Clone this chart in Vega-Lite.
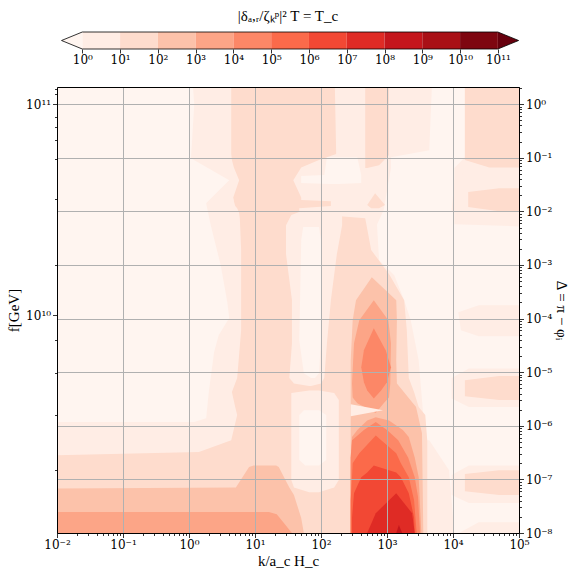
{
  "$schema": "https://vega.github.io/schema/vega-lite/v6.json",
  "padding": {"left": 6, "top": 9, "right": 1, "bottom": 2},
  "background": "white",
  "config": {
    "font": "Liberation Serif",
    "view": {"stroke": null},
    "axis": {"labelFont": "DejaVu Serif", "titleFont": "Liberation Serif", "labelFontSize": 12, "titleFontSize": 15, "titleFontWeight": "normal", "labelColor": "black", "titleColor": "black", "tickColor": "black", "domainColor": "black", "tickWidth": 0.8, "domainWidth": 1}
  },
  "datasets": {
    "cbar": [
      {"lo": 0, "hi": 1, "lv": 0}, {"lo": 1, "hi": 2, "lv": 1}, {"lo": 2, "hi": 3, "lv": 2}, {"lo": 3, "hi": 4, "lv": 3},
      {"lo": 4, "hi": 5, "lv": 4}, {"lo": 5, "hi": 6, "lv": 5}, {"lo": 6, "hi": 7, "lv": 6}, {"lo": 7, "hi": 8, "lv": 7},
      {"lo": 8, "hi": 9, "lv": 8}, {"lo": 9, "hi": 10, "lv": 9}, {"lo": 10, "hi": 11, "lv": 10}
    ],
    "cbtri": [
      {"t": "L", "x": -0.55, "ya": 0.5, "yb": 0.5, "lv": -1}, {"t": "L", "x": 0, "ya": 0, "yb": 1, "lv": -1},
      {"t": "R", "x": 11, "ya": 0, "yb": 1, "lv": 11}, {"t": "R", "x": 11.55, "ya": 0.5, "yb": 0.5, "lv": 11}
    ],
    "cbline": [
      {"i": 0, "x": -0.55, "y": 0.5}, {"i": 1, "x": 0, "y": 1}, {"i": 2, "x": 11, "y": 1}, {"i": 3, "x": 11.55, "y": 0.5},
      {"i": 4, "x": 11, "y": 0}, {"i": 5, "x": 0, "y": 0}, {"i": 6, "x": -0.55, "y": 0.5}
    ],
    "poly": [
      {"id": "U1", "z": 1, "lv": -1, "y": 0.32, "x": -2, "x2": 0.06},
      {"id": "U1", "z": 1, "lv": -1, "y": 0, "x": -2, "x2": 0.08},
      {"id": "U1", "z": 1, "lv": -1, "y": -1.01, "x": -2, "x2": 0.03},
      {"id": "U1", "z": 1, "lv": -1, "y": -1.42, "x": -2, "x2": 0.61},
      {"id": "U1", "z": 1, "lv": -1, "y": -1.85, "x": -2, "x2": 0.26},
      {"id": "U1", "z": 1, "lv": -1, "y": -2.26, "x": -2, "x2": 0.33},
      {"id": "U1", "z": 1, "lv": -1, "y": -3.0, "x": -2, "x2": 0.48},
      {"id": "U1", "z": 1, "lv": -1, "y": -3.69, "x": -2, "x2": 0.58},
      {"id": "U1", "z": 1, "lv": -1, "y": -3.99, "x": -2, "x2": 0.61},
      {"id": "U1", "z": 1, "lv": -1, "y": -4.31, "x": -2, "x2": 0.45},
      {"id": "U1", "z": 1, "lv": -1, "y": -4.63, "x": -2, "x2": 0.38},
      {"id": "U1", "z": 1, "lv": -1, "y": -5.37, "x": -2, "x2": 0.30},
      {"id": "U1", "z": 1, "lv": -1, "y": -5.86, "x": -2, "x2": 0.26},
      {"id": "U1", "z": 1, "lv": -1, "y": -5.93, "x": -2, "x2": 0.08},

      {"id": "U5", "z": 1, "lv": -1, "y": -0.99, "x": 2.09, "x2": 2.55},
      {"id": "U5", "z": 1, "lv": -1, "y": -1.32, "x": 2.05, "x2": 2.61},
      {"id": "U5", "z": 1, "lv": -1, "y": -1.34, "x": 1.70, "x2": 2.61},
      {"id": "U5", "z": 1, "lv": -1, "y": -1.47, "x": 1.70, "x2": 2.61},
      {"id": "U5", "z": 1, "lv": -1, "y": -1.49, "x": 2.12, "x2": 2.27},

      {"id": "UR", "z": 1, "lv": -1, "y": 0.32, "x": 3.68, "x2": 4.18},
      {"id": "UR", "z": 1, "lv": -1, "y": -0.86, "x": 3.64, "x2": 4.18},
      {"id": "UR", "z": 1, "lv": -1, "y": -0.99, "x": 3.06, "x2": 4.18},
      {"id": "UR", "z": 1, "lv": -1, "y": -1.19, "x": 3.06, "x2": 4.02},
      {"id": "UR", "z": 1, "lv": -1, "y": -1.98, "x": 2.95, "x2": 4.02},
      {"id": "UR", "z": 1, "lv": -1, "y": -2.24, "x": 2.85, "x2": 4.02},
      {"id": "UR", "z": 1, "lv": -1, "y": -2.28, "x": 2.85, "x2": 5},
      {"id": "UR", "z": 1, "lv": -1, "y": -2.91, "x": 2.88, "x2": 5},
      {"id": "UR", "z": 1, "lv": -1, "y": -3.19, "x": 3.11, "x2": 5},
      {"id": "UR", "z": 1, "lv": -1, "y": -3.66, "x": 3.26, "x2": 5},
      {"id": "UR", "z": 1, "lv": -1, "y": -4.03, "x": 3.36, "x2": 5},
      {"id": "UR", "z": 1, "lv": -1, "y": -4.78, "x": 3.48, "x2": 5},
      {"id": "UR", "z": 1, "lv": -1, "y": -5.52, "x": 3.53, "x2": 5},
      {"id": "UR", "z": 1, "lv": -1, "y": -6.27, "x": 3.58, "x2": 5},
      {"id": "UR", "z": 1, "lv": -1, "y": -8, "x": 3.58, "x2": 5},

      {"id": "H1", "z": 2, "lv": 0, "y": -1.21, "x": 4.24, "x2": 5},
      {"id": "H1", "z": 2, "lv": 0, "y": -1.42, "x": 4.02, "x2": 5},
      {"id": "H1", "z": 2, "lv": 0, "y": -1.98, "x": 3.98, "x2": 5},
      {"id": "H1", "z": 2, "lv": 0, "y": -2.24, "x": 4.24, "x2": 5},
      {"id": "H2", "z": 2, "lv": 0, "y": -4.93, "x": 4.24, "x2": 5},
      {"id": "H2", "z": 2, "lv": 0, "y": -5.11, "x": 3.98, "x2": 5},
      {"id": "H2", "z": 2, "lv": 0, "y": -5.49, "x": 3.98, "x2": 5},
      {"id": "H2", "z": 2, "lv": 0, "y": -5.65, "x": 4.24, "x2": 5},
      {"id": "H3", "z": 2, "lv": 0, "y": -6.74, "x": 4.24, "x2": 5},
      {"id": "H3", "z": 2, "lv": 0, "y": -6.92, "x": 3.98, "x2": 5},
      {"id": "H3", "z": 2, "lv": 0, "y": -7.29, "x": 3.98, "x2": 5},
      {"id": "H3", "z": 2, "lv": 0, "y": -7.44, "x": 4.24, "x2": 5},
      {"id": "H4", "z": 2, "lv": 0, "y": -3.75, "x": 4.39, "x2": 5},
      {"id": "H4", "z": 2, "lv": 0, "y": -3.88, "x": 4.08, "x2": 5},
      {"id": "H4", "z": 2, "lv": 0, "y": -4.22, "x": 4.12, "x2": 5},
      {"id": "H4", "z": 2, "lv": 0, "y": -4.33, "x": 4.39, "x2": 5},
      {"id": "H5", "z": 2, "lv": 0, "y": -6.27, "x": 3.58, "x2": 3.64},
      {"id": "H5", "z": 2, "lv": 0, "y": -6.83, "x": 3.58, "x2": 3.94},
      {"id": "H5", "z": 2, "lv": 0, "y": -8, "x": 3.58, "x2": 4.02},
      {"id": "H6", "z": 2, "lv": 0, "y": -7.8, "x": 4.39, "x2": 5},
      {"id": "H6", "z": 2, "lv": 0, "y": -8, "x": 4.09, "x2": 5},

      {"id": "L1big", "z": 3, "lv": 1, "y": 0.32, "x": 0.64, "x2": 2.21},
      {"id": "L1big", "z": 3, "lv": 1, "y": -0.93, "x": 0.64, "x2": 2.23},
      {"id": "L1big", "z": 3, "lv": 1, "y": -1.04, "x": 0.65, "x2": 1.97},
      {"id": "L1big", "z": 3, "lv": 1, "y": -1.18, "x": 0.68, "x2": 1.70},
      {"id": "L1big", "z": 3, "lv": 1, "y": -1.42, "x": 0.76, "x2": 1.58},
      {"id": "L1big", "z": 3, "lv": 1, "y": -1.74, "x": 0.67, "x2": 1.70},
      {"id": "L1big", "z": 3, "lv": 1, "y": -1.79, "x": 0.68, "x2": 1.70},
      {"id": "L1big", "z": 3, "lv": 1, "y": -1.81, "x": 0.68, "x2": 2.15},
      {"id": "L1big", "z": 3, "lv": 1, "y": -1.90, "x": 0.70, "x2": 2.15},
      {"id": "L1big", "z": 3, "lv": 1, "y": -1.94, "x": 0.73, "x2": 1.67},
      {"id": "L1big", "z": 3, "lv": 1, "y": -2.03, "x": 0.76, "x2": 1.67},
      {"id": "L1big", "z": 3, "lv": 1, "y": -2.13, "x": 0.77, "x2": 2.67},
      {"id": "L1big", "z": 3, "lv": 1, "y": -2.72, "x": 0.79, "x2": 2.76},
      {"id": "L1big", "z": 3, "lv": 1, "y": -3.17, "x": 0.79, "x2": 3.03},
      {"id": "L1big", "z": 3, "lv": 1, "y": -3.66, "x": 0.79, "x2": 3.26},
      {"id": "L1big", "z": 3, "lv": 1, "y": -4.22, "x": 0.79, "x2": 3.30},
      {"id": "L1big", "z": 3, "lv": 1, "y": -5.11, "x": 0.73, "x2": 3.33},
      {"id": "L1big", "z": 3, "lv": 1, "y": -5.37, "x": 0.65, "x2": 3.41},
      {"id": "L1big", "z": 3, "lv": 1, "y": -5.65, "x": 0.70, "x2": 3.48},
      {"id": "L1big", "z": 3, "lv": 1, "y": -5.80, "x": 0.73, "x2": 3.58},
      {"id": "L1big", "z": 3, "lv": 1, "y": -6.27, "x": 0.64, "x2": 3.61},
      {"id": "L1big", "z": 3, "lv": 1, "y": -6.49, "x": 0.15, "x2": 3.61},
      {"id": "L1big", "z": 3, "lv": 1, "y": -6.55, "x": -2, "x2": 3.61},
      {"id": "L1big", "z": 3, "lv": 1, "y": -8, "x": -2, "x2": 3.61},
      {"id": "L1strip", "z": 3, "lv": 1, "y": 0.32, "x": 2.67, "x2": 3.03},
      {"id": "L1strip", "z": 3, "lv": 1, "y": -0.95, "x": 2.67, "x2": 3.03},
      {"id": "L1strip", "z": 3, "lv": 1, "y": -1.14, "x": 2.67, "x2": 2.88},
      {"id": "L1strip", "z": 3, "lv": 1, "y": -1.19, "x": 2.67, "x2": 2.70},
      {"id": "L1tri", "z": 3, "lv": 1, "y": -1.66, "x": 2.82, "x2": 2.82},
      {"id": "L1tri", "z": 3, "lv": 1, "y": -1.88, "x": 2.70, "x2": 2.97},
      {"id": "L1tri", "z": 3, "lv": 1, "y": -1.94, "x": 2.76, "x2": 2.88},
      {"id": "L1TR", "z": 3, "lv": 1, "y": 0.32, "x": 4.18, "x2": 5},
      {"id": "L1TR", "z": 3, "lv": 1, "y": -1.04, "x": 4.18, "x2": 5},
      {"id": "L1TR", "z": 3, "lv": 1, "y": -1.18, "x": 4.55, "x2": 5},
      {"id": "B1", "z": 3, "lv": 1, "y": -1.57, "x": 4.70, "x2": 5},
      {"id": "B1", "z": 3, "lv": 1, "y": -1.64, "x": 4.23, "x2": 5},
      {"id": "B1", "z": 3, "lv": 1, "y": -1.92, "x": 4.23, "x2": 5},
      {"id": "B1", "z": 3, "lv": 1, "y": -2.0, "x": 4.70, "x2": 5},
      {"id": "B2", "z": 3, "lv": 1, "y": -5.07, "x": 4.70, "x2": 5},
      {"id": "B2", "z": 3, "lv": 1, "y": -5.15, "x": 4.18, "x2": 5},
      {"id": "B2", "z": 3, "lv": 1, "y": -5.45, "x": 4.18, "x2": 5},
      {"id": "B2", "z": 3, "lv": 1, "y": -5.52, "x": 4.70, "x2": 5},
      {"id": "B3", "z": 3, "lv": 1, "y": -6.83, "x": 4.70, "x2": 5},
      {"id": "B3", "z": 3, "lv": 1, "y": -6.90, "x": 4.18, "x2": 5},
      {"id": "B3", "z": 3, "lv": 1, "y": -7.22, "x": 4.18, "x2": 5},
      {"id": "B3", "z": 3, "lv": 1, "y": -7.29, "x": 4.70, "x2": 5},

      {"id": "L0up", "z": 4, "lv": 0, "y": -2.01, "x": 1.67, "x2": 1.67},
      {"id": "L0up", "z": 4, "lv": 0, "y": -2.07, "x": 1.55, "x2": 2.32},
      {"id": "L0up", "z": 4, "lv": 0, "y": -2.26, "x": 1.47, "x2": 2.32},
      {"id": "L0up", "z": 4, "lv": 0, "y": -2.80, "x": 1.47, "x2": 2.24},
      {"id": "L0up", "z": 4, "lv": 0, "y": -3.66, "x": 1.56, "x2": 2.15},
      {"id": "L0up", "z": 4, "lv": 0, "y": -4.46, "x": 1.56, "x2": 2.09},
      {"id": "L0up", "z": 4, "lv": 0, "y": -5.11, "x": 1.52, "x2": 2.05},
      {"id": "L0up", "z": 4, "lv": 0, "y": -5.21, "x": 1.59, "x2": 2.0},
      {"id": "L0up", "z": 4, "lv": 0, "y": -5.26, "x": 1.82, "x2": 1.85},
      {"id": "L0lo", "z": 4, "lv": 0, "y": -5.34, "x": 1.82, "x2": 1.97},
      {"id": "L0lo", "z": 4, "lv": 0, "y": -5.39, "x": 1.55, "x2": 2.20},
      {"id": "L0lo", "z": 4, "lv": 0, "y": -5.52, "x": 1.55, "x2": 2.27},
      {"id": "L0lo", "z": 4, "lv": 0, "y": -7.01, "x": 1.55, "x2": 2.27},
      {"id": "L0lo", "z": 4, "lv": 0, "y": -7.15, "x": 1.59, "x2": 2.20},
      {"id": "L0lo", "z": 4, "lv": 0, "y": -7.24, "x": 1.82, "x2": 1.97},

      {"id": "U3", "z": 5, "lv": -1, "y": -2.29, "x": 1.73, "x2": 1.97},
      {"id": "U3", "z": 5, "lv": -1, "y": -2.54, "x": 1.70, "x2": 2.0},
      {"id": "U3", "z": 5, "lv": -1, "y": -3.84, "x": 1.68, "x2": 2.0},
      {"id": "U3", "z": 5, "lv": -1, "y": -4.40, "x": 1.67, "x2": 2.0},
      {"id": "U3", "z": 5, "lv": -1, "y": -5.02, "x": 1.74, "x2": 1.97},
      {"id": "U3", "z": 5, "lv": -1, "y": -5.11, "x": 1.85, "x2": 1.91},
      {"id": "U4", "z": 5, "lv": -1, "y": -5.71, "x": 1.74, "x2": 1.97},
      {"id": "U4", "z": 5, "lv": -1, "y": -5.80, "x": 1.67, "x2": 2.08},
      {"id": "U4", "z": 5, "lv": -1, "y": -6.64, "x": 1.67, "x2": 2.08},
      {"id": "U4", "z": 5, "lv": -1, "y": -6.74, "x": 1.76, "x2": 1.97},

      {"id": "L2bot", "z": 6, "lv": 2, "y": -6.74, "x": 0.98, "x2": 1.32},
      {"id": "L2bot", "z": 6, "lv": 2, "y": -6.77, "x": 0.91, "x2": 1.36},
      {"id": "L2bot", "z": 6, "lv": 2, "y": -7.15, "x": 0.71, "x2": 1.52},
      {"id": "L2bot", "z": 6, "lv": 2, "y": -7.17, "x": -2, "x2": 1.53},
      {"id": "L2bot", "z": 6, "lv": 2, "y": -7.29, "x": -2, "x2": 1.59},
      {"id": "L2bot", "z": 6, "lv": 2, "y": -7.72, "x": -2, "x2": 1.70},
      {"id": "L2bot", "z": 6, "lv": 2, "y": -8, "x": -2, "x2": 1.74},
      {"id": "L2col", "z": 6, "lv": 2, "y": -3.23, "x": 2.77, "x2": 2.77},
      {"id": "L2col", "z": 6, "lv": 2, "y": -3.66, "x": 2.53, "x2": 3.14},
      {"id": "L2col", "z": 6, "lv": 2, "y": -4.03, "x": 2.48, "x2": 3.15},
      {"id": "L2col", "z": 6, "lv": 2, "y": -4.78, "x": 2.45, "x2": 3.14},
      {"id": "L2col", "z": 6, "lv": 2, "y": -5.21, "x": 2.45, "x2": 3.15},
      {"id": "L2col", "z": 6, "lv": 2, "y": -5.65, "x": 2.45, "x2": 3.44},
      {"id": "L2col", "z": 6, "lv": 2, "y": -6.14, "x": 2.45, "x2": 3.53},
      {"id": "L2col", "z": 6, "lv": 2, "y": -8, "x": 2.45, "x2": 3.55},

      {"id": "L3bot", "z": 7, "lv": 3, "y": -7.61, "x": -2, "x2": 1.21},
      {"id": "L3bot", "z": 7, "lv": 3, "y": -7.65, "x": -2, "x2": 1.33},
      {"id": "L3bot", "z": 7, "lv": 3, "y": -8, "x": -2, "x2": 1.56},
      {"id": "L3up", "z": 7, "lv": 3, "y": -3.66, "x": 2.80, "x2": 2.80},
      {"id": "L3up", "z": 7, "lv": 3, "y": -4.03, "x": 2.58, "x2": 3.02},
      {"id": "L3up", "z": 7, "lv": 3, "y": -4.46, "x": 2.50, "x2": 3.06},
      {"id": "L3up", "z": 7, "lv": 3, "y": -5.21, "x": 2.47, "x2": 3.05},
      {"id": "L3up", "z": 7, "lv": 3, "y": -5.47, "x": 2.48, "x2": 3.03},
      {"id": "L3up", "z": 7, "lv": 3, "y": -5.58, "x": 2.55, "x2": 2.95},
      {"id": "L3up", "z": 7, "lv": 3, "y": -5.76, "x": 2.83, "x2": 2.83},
      {"id": "L3lo", "z": 7, "lv": 3, "y": -5.84, "x": 2.83, "x2": 2.83},
      {"id": "L3lo", "z": 7, "lv": 3, "y": -5.90, "x": 2.70, "x2": 3.03},
      {"id": "L3lo", "z": 7, "lv": 3, "y": -6.08, "x": 2.55, "x2": 3.24},
      {"id": "L3lo", "z": 7, "lv": 3, "y": -6.21, "x": 2.47, "x2": 3.33},
      {"id": "L3lo", "z": 7, "lv": 3, "y": -6.59, "x": 2.45, "x2": 3.42},
      {"id": "L3lo", "z": 7, "lv": 3, "y": -6.96, "x": 2.45, "x2": 3.48},
      {"id": "L3lo", "z": 7, "lv": 3, "y": -8, "x": 2.45, "x2": 3.52},

      {"id": "L4up", "z": 8, "lv": 4, "y": -4.18, "x": 2.80, "x2": 2.80},
      {"id": "L4up", "z": 8, "lv": 4, "y": -4.59, "x": 2.65, "x2": 2.98},
      {"id": "L4up", "z": 8, "lv": 4, "y": -4.91, "x": 2.61, "x2": 3.06},
      {"id": "L4up", "z": 8, "lv": 4, "y": -5.19, "x": 2.65, "x2": 3.0},
      {"id": "L4up", "z": 8, "lv": 4, "y": -5.34, "x": 2.70, "x2": 2.91},
      {"id": "L4up", "z": 8, "lv": 4, "y": -5.49, "x": 2.80, "x2": 2.80},
      {"id": "L4lo", "z": 8, "lv": 4, "y": -5.93, "x": 2.83, "x2": 2.83},
      {"id": "L4lo", "z": 8, "lv": 4, "y": -6.08, "x": 2.65, "x2": 3.0},
      {"id": "L4lo", "z": 8, "lv": 4, "y": -6.27, "x": 2.47, "x2": 3.17},
      {"id": "L4lo", "z": 8, "lv": 4, "y": -6.59, "x": 2.45, "x2": 3.32},
      {"id": "L4lo", "z": 8, "lv": 4, "y": -6.96, "x": 2.45, "x2": 3.42},
      {"id": "L4lo", "z": 8, "lv": 4, "y": -7.33, "x": 2.45, "x2": 3.47},
      {"id": "L4lo", "z": 8, "lv": 4, "y": -8, "x": 2.45, "x2": 3.5},

      {"id": "L5", "z": 9, "lv": 5, "y": -6.18, "x": 2.83, "x2": 2.83},
      {"id": "L5", "z": 9, "lv": 5, "y": -6.51, "x": 2.58, "x2": 3.14},
      {"id": "L5", "z": 9, "lv": 5, "y": -6.70, "x": 2.48, "x2": 3.21},
      {"id": "L5", "z": 9, "lv": 5, "y": -6.96, "x": 2.47, "x2": 3.33},
      {"id": "L5", "z": 9, "lv": 5, "y": -7.39, "x": 2.45, "x2": 3.41},
      {"id": "L5", "z": 9, "lv": 5, "y": -8, "x": 2.45, "x2": 3.45},

      {"id": "L6", "z": 10, "lv": 6, "y": -6.74, "x": 2.80, "x2": 2.80},
      {"id": "L6", "z": 10, "lv": 6, "y": -6.87, "x": 2.70, "x2": 3.14},
      {"id": "L6", "z": 10, "lv": 6, "y": -6.96, "x": 2.61, "x2": 3.21},
      {"id": "L6", "z": 10, "lv": 6, "y": -7.26, "x": 2.50, "x2": 3.33},
      {"id": "L6", "z": 10, "lv": 6, "y": -7.71, "x": 2.47, "x2": 3.41},
      {"id": "L6", "z": 10, "lv": 6, "y": -8, "x": 2.47, "x2": 3.42},

      {"id": "L7", "z": 11, "lv": 7, "y": -7.26, "x": 3.14, "x2": 3.14},
      {"id": "L7", "z": 11, "lv": 7, "y": -7.63, "x": 2.83, "x2": 3.38},
      {"id": "L7", "z": 11, "lv": 7, "y": -8, "x": 2.70, "x2": 3.42},

      {"id": "L8", "z": 12, "lv": 8, "y": -7.85, "x": 3.18, "x2": 3.18},
      {"id": "L8", "z": 12, "lv": 8, "y": -8, "x": 3.14, "x2": 3.23},

      {"id": "W", "z": 13, "lv": 0, "y": -5.60, "x": 2.45, "x2": 2.45},
      {"id": "W", "z": 13, "lv": 0, "y": -5.71, "x": 2.45, "x2": 2.94},
      {"id": "W", "z": 13, "lv": 0, "y": -5.82, "x": 2.45, "x2": 2.45}
    ]
  },
  "spacing": 38,
  "bounds": "flush",
  "vconcat": [
    {
      "width": 462,
      "height": 17,
      "title": {"text": "|δₐ,ᵣ/ζₖᵖ|²     T = T_c", "font": "Liberation Serif", "fontSize": 15, "fontWeight": "normal", "offset": 6, "anchor": "middle", "color": "black"},
      "resolve": {"axis": {"x": "independent"}},
      "layer": [
        {
          "data": {"name": "cbar"},
          "mark": {"type": "rect", "opacity": 1},
          "encoding": {
            "x": {"field": "lo", "type": "quantitative", "scale": {"domain": [-0.67, 11.56], "nice": false, "zero": false},
                  "axis": {"orient": "bottom", "values": [0,1,2,3,4,5,6,7,8,9,10,11], "labelExpr": "['10⁰','10¹','10²','10³','10⁴','10⁵','10⁶','10⁷','10⁸','10⁹','10¹⁰','10¹¹'][datum.value]", "tickSize": 4, "domain": false, "grid": false, "title": null, "labelFlush": false, "labelOverlap": false, "labelPadding": 1, "zindex": 1}},
            "x2": {"field": "hi"},
            "y": {"datum": 0, "type": "quantitative", "scale": {"domain": [0, 1], "nice": false, "zero": false}, "axis": null},
            "y2": {"datum": 1},
            "color": {"field": "lv", "type": "ordinal", "scale": {"domain": [-1,0,1,2,3,4,5,6,7,8,9,10,11], "range": ["#fff5f0","#ffede5","#fedccd","#fcc2aa","#fca587","#fc8767","#fb6a4a","#f24834","#df2b25","#c4161c","#a91016","#7e0610","#67000d"]}, "legend": null}
          }
        },
        {
          "data": {"name": "cbtri"},
          "mark": {"type": "area", "opacity": 1},
          "encoding": {
            "x": {"field": "x", "type": "quantitative", "scale": {"domain": [-0.67, 11.56], "nice": false, "zero": false}, "axis": null},
            "y": {"field": "ya", "type": "quantitative", "scale": {"domain": [0, 1], "nice": false, "zero": false}, "axis": null, "stack": null},
            "y2": {"field": "yb"},
            "color": {"field": "lv", "type": "ordinal", "legend": null},
            "detail": {"field": "t"}
          }
        },
        {
          "data": {"name": "cbline"},
          "mark": {"type": "line", "color": "black", "strokeWidth": 0.8},
          "encoding": {
            "x": {"field": "x", "type": "quantitative", "scale": {"domain": [-0.67, 11.56], "nice": false, "zero": false}, "axis": null},
            "y": {"field": "y", "type": "quantitative", "scale": {"domain": [0, 1], "nice": false, "zero": false}, "axis": null},
            "order": {"field": "i"}
          }
        }
      ]
    },
    {
      "width": 462,
      "height": 446,
      "view": {"fill": "#ffede5", "stroke": "black", "strokeWidth": 1},
      "data": {"name": "poly"},
      "encoding": {
        "y": {"field": "y", "type": "quantitative", "scale": {"domain": [-8, 0.32], "nice": false, "zero": false}, "axis": null},
        "x": {"field": "x", "type": "quantitative", "scale": {"domain": [-2, 5], "nice": false, "zero": false}, "axis": null, "stack": null},
        "x2": {"field": "x2"},
        "color": {"field": "lv", "type": "ordinal", "legend": null},
        "detail": {"field": "id"}
      },
      "resolve": {"axis": {"x": "independent", "y": "independent"}},
      "layer": [
        {
          "transform": [{"filter": "datum.z == 1"}],
          "mark": {"type": "area", "orient": "horizontal", "clip": true, "opacity": 1},
          "encoding": {
            "y": {"field": "y", "type": "quantitative", "scale": {"domain": [-8, 0.32], "nice": false, "zero": false},
                  "axis": {"orient": "left", "values": [0.28, 0.19, 0, -0.24, -0.43, -0.67, -1.03, -1.77, -3.0, -3.94, -4.40, -5.02, -5.80, -6.83],
                           "labelExpr": "datum.value == 0 ? '10¹¹' : (datum.value == -3.94 ? '10¹⁰' : '')",
                           "tickSize": {"condition": {"test": "datum.value == 0 || datum.value == -3.94", "value": 4.5}, "value": 2.5},
                           "grid": false, "title": "f[GeV]", "titlePadding": 4, "labelPadding": 2, "labelFlush": false, "labelOverlap": false, "zindex": 1}},
            "x": {"field": "x", "type": "quantitative", "scale": {"domain": [-2, 5], "nice": false, "zero": false}, "stack": null,
                  "axis": {"orient": "bottom", "values": [-2,-1.699,-1.523,-1.398,-1.301,-1.222,-1.155,-1.097,-1.046,-1,-0.699,-0.523,-0.398,-0.301,-0.222,-0.155,-0.097,-0.046,0,0.301,0.477,0.602,0.699,0.778,0.845,0.903,0.954,1,1.301,1.477,1.602,1.699,1.778,1.845,1.903,1.954,2,2.301,2.477,2.602,2.699,2.778,2.845,2.903,2.954,3,3.301,3.477,3.602,3.699,3.778,3.845,3.903,3.954,4,4.301,4.477,4.602,4.699,4.778,4.845,4.903,4.954,5],
                           "labelExpr": "datum.value == round(datum.value) ? ['10⁻²','10⁻¹','10⁰','10¹','10²','10³','10⁴','10⁵'][datum.value + 2] : ''",
                           "tickSize": {"condition": {"test": "datum.value == round(datum.value)", "value": 4.5}, "value": 2.5},
                           "grid": true, "gridColor": "#b0b0b0", "gridWidth": 1,
                           "gridOpacity": {"condition": {"test": "datum.value == round(datum.value)", "value": 1}, "value": 0},
                           "title": "k/a_c H_c", "titlePadding": 3, "labelPadding": 2, "labelFlush": false, "labelOverlap": false, "zindex": 1}}
          }
        },
        {
          "transform": [{"filter": "datum.z == 2"}],
          "mark": {"type": "area", "orient": "horizontal", "clip": true, "opacity": 1},
          "encoding": {
            "y": {"field": "y", "type": "quantitative", "scale": {"domain": [-8, 0.32], "nice": false, "zero": false},
                  "axis": {"orient": "right", "values": [-8,-7.699,-7.523,-7.398,-7.301,-7.222,-7.155,-7.097,-7.046,-7,-6.699,-6.523,-6.398,-6.301,-6.222,-6.155,-6.097,-6.046,-6,-5.699,-5.523,-5.398,-5.301,-5.222,-5.155,-5.097,-5.046,-5,-4.699,-4.523,-4.398,-4.301,-4.222,-4.155,-4.097,-4.046,-4,-3.699,-3.523,-3.398,-3.301,-3.222,-3.155,-3.097,-3.046,-3,-2.699,-2.523,-2.398,-2.301,-2.222,-2.155,-2.097,-2.046,-2,-1.699,-1.523,-1.398,-1.301,-1.222,-1.155,-1.097,-1.046,-1,-0.699,-0.523,-0.398,-0.301,-0.222,-0.155,-0.097,-0.046,0,0.301],
                           "labelExpr": "datum.value == round(datum.value) ? ['10⁻⁸','10⁻⁷','10⁻⁶','10⁻⁵','10⁻⁴','10⁻³','10⁻²','10⁻¹','10⁰'][datum.value + 8] : ''",
                           "tickSize": {"condition": {"test": "datum.value == round(datum.value)", "value": 4.5}, "value": 2.5},
                           "grid": true, "gridColor": "#b0b0b0", "gridWidth": 1,
                           "gridOpacity": {"condition": {"test": "datum.value == round(datum.value)", "value": 1}, "value": 0},
                           "title": "Δ = π − φᵢ", "titleAngle": 90, "titlePadding": 2, "labelPadding": 2, "labelFlush": false, "labelOverlap": false, "zindex": 1}},
            "x": {"field": "x", "type": "quantitative", "scale": {"domain": [-2, 5], "nice": false, "zero": false}, "stack": null,
                  "axis": {"orient": "top", "ticks": false, "labels": false, "grid": false, "domain": true, "title": null, "zindex": 1}}
          }
        },
        {"transform": [{"filter": "datum.z == 3"}], "mark": {"type": "area", "orient": "horizontal", "clip": true, "opacity": 1}},
        {"transform": [{"filter": "datum.z == 4"}], "mark": {"type": "area", "orient": "horizontal", "clip": true, "opacity": 1}},
        {"transform": [{"filter": "datum.z == 5"}], "mark": {"type": "area", "orient": "horizontal", "clip": true, "opacity": 1}},
        {"transform": [{"filter": "datum.z == 6"}], "mark": {"type": "area", "orient": "horizontal", "clip": true, "opacity": 1}},
        {"transform": [{"filter": "datum.z == 7"}], "mark": {"type": "area", "orient": "horizontal", "clip": true, "opacity": 1}},
        {"transform": [{"filter": "datum.z == 8"}], "mark": {"type": "area", "orient": "horizontal", "clip": true, "opacity": 1}},
        {"transform": [{"filter": "datum.z == 9"}], "mark": {"type": "area", "orient": "horizontal", "clip": true, "opacity": 1}},
        {"transform": [{"filter": "datum.z == 10"}], "mark": {"type": "area", "orient": "horizontal", "clip": true, "opacity": 1}},
        {"transform": [{"filter": "datum.z == 11"}], "mark": {"type": "area", "orient": "horizontal", "clip": true, "opacity": 1}},
        {"transform": [{"filter": "datum.z == 12"}], "mark": {"type": "area", "orient": "horizontal", "clip": true, "opacity": 1}},
        {"transform": [{"filter": "datum.z == 13"}], "mark": {"type": "area", "orient": "horizontal", "clip": true, "opacity": 1}}
      ]
    }
  ]
}
